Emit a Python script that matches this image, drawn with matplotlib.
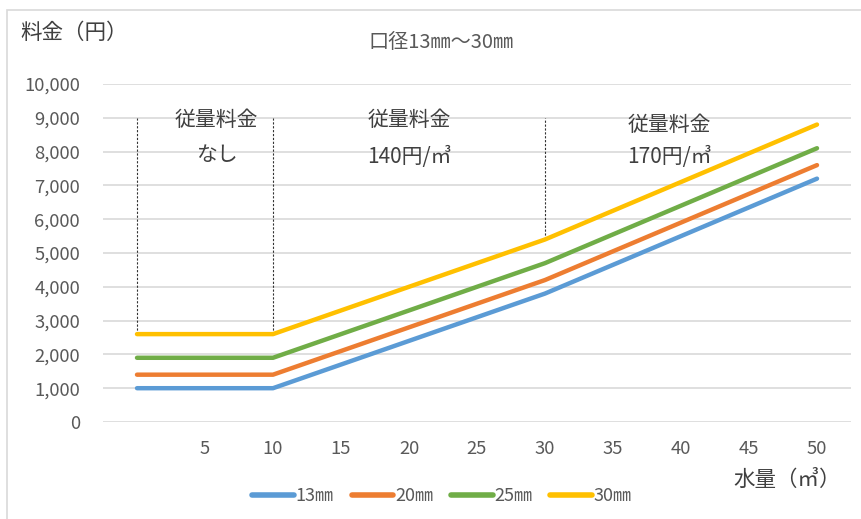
import matplotlib
matplotlib.use("Agg")
import matplotlib.pyplot as plt
from matplotlib.patches import Rectangle

plt.rcParams['font.family'] = ['Noto Sans CJK JP', 'DejaVu Sans']

categories = ["", "5", "10", "15", "20", "25", "30", "35", "40", "45", "50"]
series_names = ["13㎜", "20㎜", "25㎜", "30㎜"]
v13 = [1000, 1000, 1000, 1700, 2400, 3100, 3800, 4650, 5500, 6350, 7200]
v20 = [1400, 1400, 1400, 2100, 2800, 3500, 4200, 5050, 5900, 6750, 7600]
v25 = [1900, 1900, 1900, 2600, 3300, 4000, 4700, 5550, 6400, 7250, 8100]
v30 = [2600, 2600, 2600, 3300, 4000, 4700, 5400, 6250, 7100, 7950, 8800]
colors = ["#5B9BD5", "#ED7D31", "#70AD47", "#FFC000"]

W, H = 861, 519
fig = plt.figure(figsize=(W / 100, H / 100), dpi=100)
fig.patch.set_facecolor("white")

# outer chart border
fig.patches.append(Rectangle((7 / W, -0.05), 1.2, 1 - 10 / H + 0.05,
                             transform=fig.transFigure, fill=False,
                             edgecolor="#d9d9d9", linewidth=1.2))

left, right, top, bottom = 103, 851, 84, 422
ax = fig.add_axes([left / W, 1 - bottom / H, (right - left) / W, (bottom - top) / H])

x = list(range(len(categories)))
for vals, name, c in zip([v13, v20, v25, v30], series_names, colors):
    ax.plot(x, vals, color=c, linewidth=3.2, solid_capstyle="round",
            solid_joinstyle="round", label=name, zorder=3)

ax.set_xlim(-0.5, len(categories) - 0.5)
ax.set_ylim(0, 10000)
ax.set_yticks(range(0, 10001, 1000))
ax.set_yticklabels([f"{v:,}" for v in range(0, 10001, 1000)])
ax.set_xticks(x)
ax.set_xticklabels(categories)
ax.grid(axis="y", color="#d9d9d9", linewidth=1.2)
ax.set_axisbelow(True)
for s in ax.spines.values():
    s.set_visible(False)
ax.tick_params(length=0, labelsize=13.3, colors="#595959")
ax.tick_params(axis="y", pad=16.5)
ax.tick_params(axis="x", pad=13)

# dotted separators
for xi, ytop, ybot in [(0, 9000, v30[0]), (2, 9000, v30[2]), (6, 9000, v30[6])]:
    ax.plot([xi, xi], [ybot, ytop], color="#333333", linewidth=0.8,
            linestyle=(0, (2, 1.5)), zorder=2)

# annotations
ann_color = "#404040"
fs = 15
ax.text(1.17, 8950, "従量料金", ha="center", va="center", fontsize=fs, color=ann_color)
ax.text(1.17, 7900, "なし", ha="center", va="center", fontsize=fs, color=ann_color)
ax.text(4.0, 8950, "従量料金", ha="center", va="center", fontsize=fs, color=ann_color)
ax.text(4.0, 7850, "140円/㎥", ha="center", va="center", fontsize=fs, color=ann_color)
ax.text(7.83, 8800, "従量料金", ha="center", va="center", fontsize=fs, color=ann_color)
ax.text(7.83, 7850, "170円/㎥", ha="center", va="center", fontsize=fs, color=ann_color)

# titles
fig.text(441 / W, 1 - 42 / H, "口径13㎜～30㎜", ha="center", va="center",
         fontsize=14.5, color="#595959")
fig.text(20 / W, 1 - 33 / H, "料金（円）", ha="left", va="center",
         fontsize=15.5, color="#404040")
fig.text(787 / W, 1 - 480 / H, "水量（㎥）", ha="center", va="center",
         fontsize=15.5, color="#404040")

leg = fig.legend(loc="center", bbox_to_anchor=(442 / W, 1 - 496 / H), ncol=4,
                 frameon=False, fontsize=13, handlelength=2.3,
                 columnspacing=1.0, handletextpad=0.1)
for t in leg.get_texts():
    t.set_color("#595959")
for l in leg.get_lines():
    l.set_linewidth(4)

fig.savefig("out.png", dpi=100)
